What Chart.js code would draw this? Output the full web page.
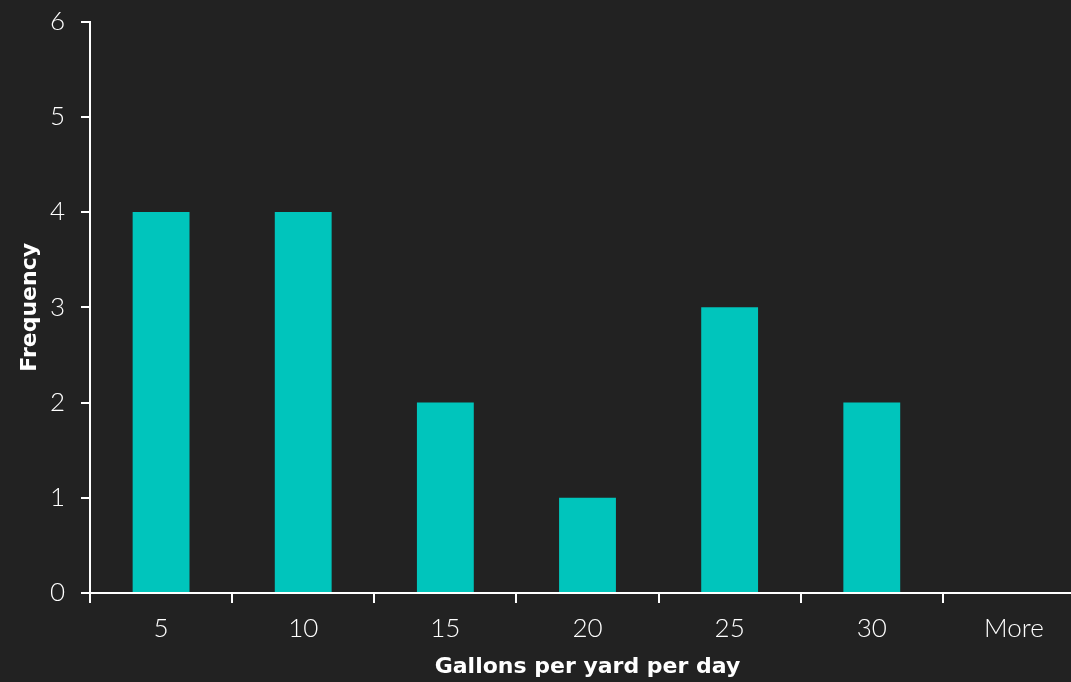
<!DOCTYPE html>
<html>
<head>
<meta charset="utf-8">
<script src="https://cdn.jsdelivr.net/npm/chart.js@4"></script>
<style>
  html, body { margin: 0; padding: 0; background: #222222; overflow: hidden; }
  #wrap { width: 1085px; height: 692px; position: relative; margin-top: -10px; }
</style>
</head>
<body>
<div id="wrap"><canvas id="c"></canvas></div>
<script>
const categories = ["5", "10", "15", "20", "25", "30", "More"];
const frequency = [4, 4, 2, 1, 3, 2, 0];
const xTitle = "Gallons per yard per day";
const yTitle = "Frequency";

const tickFont = { family: "Lato, 'DejaVu Sans', sans-serif", size: 26, weight: 300 };
const titleFont = { family: "'DejaVu Sans', sans-serif", size: 22, weight: 'bold' };

new Chart(document.getElementById('c'), {
  type: 'bar',
  data: {
    labels: categories,
    datasets: [{
      data: frequency,
      backgroundColor: '#00C5BC',
      borderWidth: 0,
      barPercentage: 0.4,
      categoryPercentage: 1.0
    }]
  },
  options: {
    responsive: true,
    maintainAspectRatio: false,
    animation: false,
    layout: { padding: { top: 0, right: 0, left: 0, bottom: 0 } },
    plugins: { legend: { display: false }, tooltip: { enabled: false } },
    scales: {
      x: {
        offset: true,
        grid: { display: true, drawOnChartArea: false, drawTicks: true, tickLength: 10, color: '#ffffff', lineWidth: 2, offset: true },
        border: { display: true, color: '#ffffff', width: 2 },
        ticks: { color: '#ffffff', font: tickFont, padding: 10 },
        title: { display: true, text: xTitle, color: '#ffffff', font: titleFont, padding: { top: 4, bottom: 2 } },
        afterFit: (s) => { s.height = 89; }
      },
      y: {
        min: 0, max: 6,
        grid: { display: true, drawOnChartArea: false, drawTicks: true, tickLength: 9, color: '#ffffff', lineWidth: 2 },
        border: { display: true, color: '#ffffff', width: 2 },
        ticks: { color: '#ffffff', font: tickFont, stepSize: 1, padding: 16 },
        title: { display: true, text: yTitle, color: '#ffffff', font: titleFont, padding: { top: 17, bottom: 4 } },
        afterFit: (s) => { s.width = 90; }
      }
    }
  }
});
</script>
</body>
</html>
